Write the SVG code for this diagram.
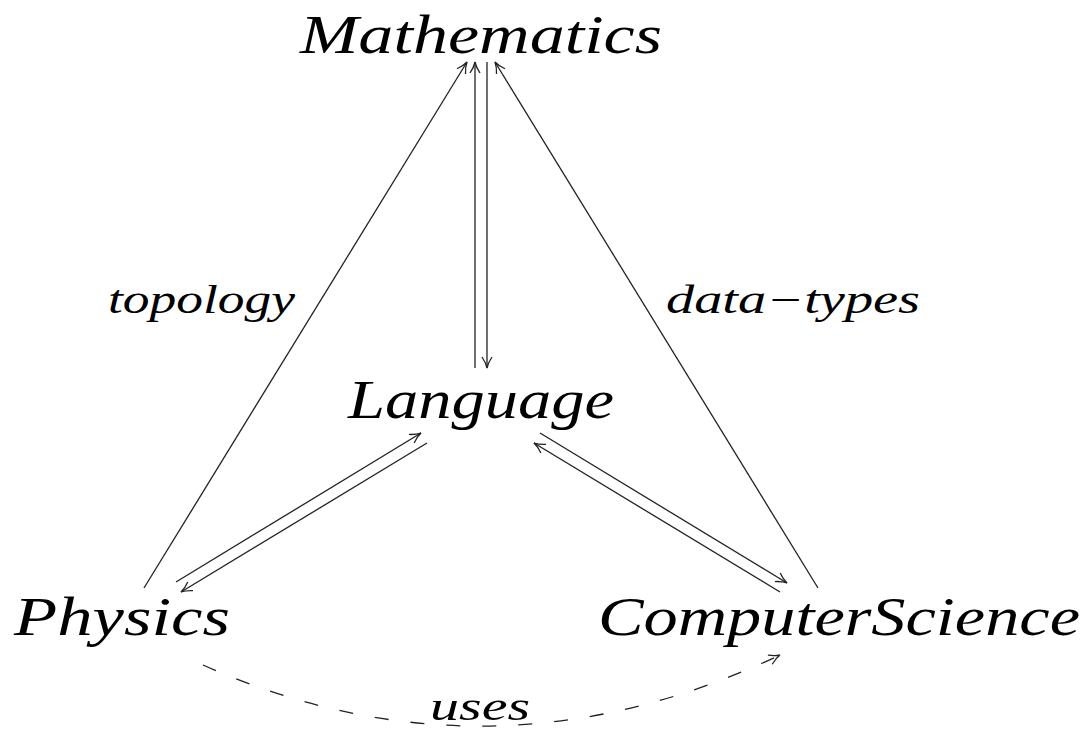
<svg xmlns="http://www.w3.org/2000/svg" width="1090" height="732" viewBox="0 0 1090 732">
<style>
.n{font-family:"Liberation Serif",serif;font-style:italic;font-size:54px;fill:#000}
.l{font-family:"Liberation Serif",serif;font-style:italic;font-size:40px;fill:#000}
.c{fill:none;stroke:#222;stroke-width:1.3}
.d{stroke-dasharray:14 22}
</style>
<defs>
<marker id="ah" viewBox="-12 -6 14 12" refX="0" refY="0" markerWidth="14" markerHeight="12" markerUnits="userSpaceOnUse" orient="auto">
<path d="M-11,-5 Q-5,-1 0,0 Q-5,1 -11,5" fill="none" stroke="#222" stroke-width="1.3"/>
</marker>
</defs>
<rect width="1090" height="732" fill="#fff"/>
<g id="edges">
<line class="c" x1="144" y1="588" x2="467" y2="62" marker-end="url(#ah)"/>
<line class="c" x1="475" y1="368" x2="475" y2="62" marker-end="url(#ah)"/>
<line class="c" x1="487" y1="62" x2="487" y2="368" marker-end="url(#ah)"/>
<line class="c" x1="818" y1="588" x2="495" y2="62" marker-end="url(#ah)"/>
<line class="c" x1="176" y1="582" x2="421" y2="433" marker-end="url(#ah)"/>
<line class="c" x1="427" y1="443" x2="181" y2="592" marker-end="url(#ah)"/>
<line class="c" x1="540" y1="433" x2="787" y2="583" marker-end="url(#ah)"/>
<line class="c" x1="780" y1="592" x2="534" y2="443" marker-end="url(#ah)"/>
<path class="c d" d="M203,665 Q490,792 780,655" marker-end="url(#ah)"/>
</g>
<g id="labels">
<text class="l" x="108" y="313" textLength="187" lengthAdjust="spacingAndGlyphs">topology</text>
<text class="l" x="666" y="313" textLength="254" lengthAdjust="spacingAndGlyphs">data−types</text>
<text class="l" x="430" y="720" textLength="100" lengthAdjust="spacingAndGlyphs">uses</text>
</g>
<g id="mathematics"><text class="n" x="300" y="53" textLength="362" lengthAdjust="spacingAndGlyphs">Mathematics</text></g>
<g id="language"><text class="n" x="348" y="418" textLength="266" lengthAdjust="spacingAndGlyphs">Language</text></g>
<g id="physics"><text class="n" x="14" y="635" textLength="216" lengthAdjust="spacingAndGlyphs">Physics</text></g>
<g id="computerscience"><text class="n" x="598" y="635" textLength="482" lengthAdjust="spacingAndGlyphs">ComputerScience</text></g>
</svg>
